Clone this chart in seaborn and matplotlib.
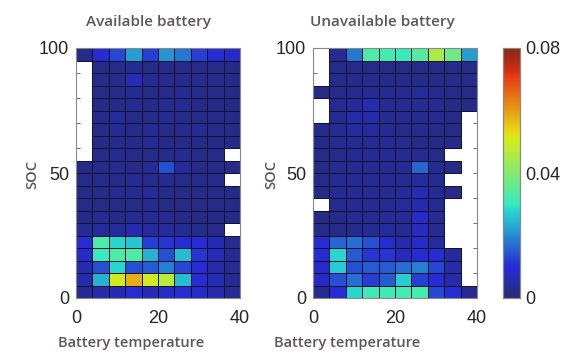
import numpy as np
import pandas as pd
import matplotlib
matplotlib.use("Agg")
import matplotlib.pyplot as plt
import seaborn as sns
from matplotlib.colors import ListedColormap

nan = np.nan
temps = [0, 4, 8, 12, 16, 20, 24, 28, 32, 36]          # left edge of each temperature bin
soc = [95, 90, 85, 80, 75, 70, 65, 60, 55, 50,
       45, 40, 35, 30, 25, 20, 15, 10, 5, 0]             # lower edge of each SOC bin (top to bottom)

available = [
    [0.002, 0.009, 0.013, 0.022, 0.012, 0.021, 0.018, 0.012, 0.010, 0.008],
    [nan, 0.002, 0.002, 0.003, 0.002, 0.002, 0.002, 0.002, 0.002, 0.002],
    [nan, 0.002, 0.002, 0.006, 0.003, 0.002, 0.002, 0.002, 0.002, 0.002],
    [nan, 0.002, 0.002, 0.003, 0.002, 0.002, 0.003, 0.002, 0.002, 0.002],
    [nan, 0.002, 0.002, 0.003, 0.002, 0.003, 0.003, 0.002, 0.002, 0.002],
    [nan, 0.002, 0.004, 0.002, 0.002, 0.003, 0.002, 0.002, 0.002, 0.002],
    [nan, 0.002, 0.003, 0.002, 0.003, 0.002, 0.002, 0.003, 0.002, 0.002],
    [nan, 0.002, 0.002, 0.002, 0.003, 0.002, 0.002, 0.002, 0.002, 0.002],
    [nan, 0.002, 0.003, 0.002, 0.002, 0.002, 0.003, 0.002, 0.002, nan],
    [0.002, 0.002, 0.003, 0.002, 0.003, 0.014, 0.004, 0.002, 0.002, 0.002],
    [0.002, 0.002, 0.002, 0.003, 0.002, 0.003, 0.002, 0.002, 0.002, nan],
    [0.002, 0.002, 0.003, 0.003, 0.004, 0.002, 0.002, 0.002, 0.002, 0.002],
    [0.002, 0.002, 0.002, 0.002, 0.003, 0.002, 0.002, 0.002, 0.002, 0.002],
    [0.002, 0.003, 0.002, 0.003, 0.003, 0.003, 0.002, 0.002, 0.002, 0.002],
    [0.003, 0.004, 0.004, 0.005, 0.004, 0.004, 0.003, 0.002, 0.002, nan],
    [0.010, 0.033, 0.028, 0.026, 0.012, 0.011, 0.010, 0.010, 0.006, 0.003],
    [0.008, 0.030, 0.033, 0.033, 0.024, 0.014, 0.025, 0.011, 0.006, 0.003],
    [0.005, 0.014, 0.028, 0.014, 0.015, 0.019, 0.013, 0.010, 0.005, 0.003],
    [0.005, 0.024, 0.050, 0.058, 0.050, 0.047, 0.025, 0.010, 0.006, 0.003],
    [0.003, 0.005, 0.006, 0.009, 0.006, 0.008, 0.010, 0.008, 0.005, 0.003],
]

unavailable = [
    [nan, 0.003, 0.018, 0.033, 0.032, 0.030, 0.034, 0.045, 0.037, 0.022],
    [nan, 0.002, 0.002, 0.002, 0.002, 0.002, 0.002, 0.002, 0.002, 0.002],
    [nan, 0.002, 0.002, 0.003, 0.002, 0.002, 0.002, 0.002, 0.002, 0.002],
    [0.002, 0.002, 0.003, 0.003, 0.003, 0.003, 0.004, 0.003, 0.002, 0.002],
    [nan, 0.003, 0.004, 0.006, 0.003, 0.003, 0.003, 0.003, 0.002, 0.002],
    [nan, 0.003, 0.005, 0.005, 0.003, 0.003, 0.003, 0.003, 0.002, nan],
    [0.002, 0.003, 0.004, 0.004, 0.003, 0.002, 0.003, 0.002, 0.002, nan],
    [0.002, 0.003, 0.003, 0.003, 0.003, 0.003, 0.002, 0.002, 0.002, nan],
    [0.002, 0.002, 0.003, 0.003, 0.003, 0.003, 0.003, 0.002, nan, nan],
    [0.002, 0.003, 0.003, 0.003, 0.003, 0.003, 0.016, 0.003, 0.002, nan],
    [0.002, 0.003, 0.003, 0.003, 0.003, 0.003, 0.004, 0.003, nan, nan],
    [0.002, 0.003, 0.003, 0.003, 0.003, 0.004, 0.006, 0.003, 0.002, nan],
    [nan, 0.003, 0.003, 0.003, 0.003, 0.004, 0.005, 0.003, nan, nan],
    [0.002, 0.002, 0.003, 0.003, 0.004, 0.003, 0.008, 0.003, nan, nan],
    [0.002, 0.002, 0.003, 0.003, 0.004, 0.003, 0.007, 0.003, nan, nan],
    [0.010, 0.016, 0.017, 0.014, 0.010, 0.005, 0.008, 0.004, nan, nan],
    [0.009, 0.028, 0.015, 0.011, 0.011, 0.007, 0.009, 0.010, 0.004, nan],
    [0.008, 0.027, 0.014, 0.015, 0.015, 0.017, 0.019, 0.013, 0.005, nan],
    [0.008, 0.014, 0.017, 0.012, 0.015, 0.027, 0.012, 0.010, 0.005, nan],
    [0.003, 0.009, 0.028, 0.031, 0.031, 0.032, 0.032, 0.013, 0.010, 0.003],
]

titles = ["Available battery", "Unavailable battery"]
xlabel = "Battery temperature"
ylabel = "SOC"
x_ticks = [0, 20, 40]
y_ticks = [0, 50, 100]
cbar_ticks = [0, 0.04, 0.08]
vmin, vmax = 0.0, 0.08

# faded jet, like the printed original
jet = plt.get_cmap("jet")(np.linspace(0, 1, 256))[:, :3]
fade = np.array([0.60, 0.68, 0.30])
cols = np.clip(jet * 0.75 + fade * 0.25, 0, 1)
cmap = ListedColormap(cols)

sns.set_style("white")
plt.rcParams["font.family"] = ["Liberation Sans", "DejaVu Sans"]

fig = plt.figure(figsize=(5.79, 3.54), dpi=100)
W, H = 579, 354
def fbox(x0, y0, x1, y1):
    return [x0 / W, 1 - y1 / H, (x1 - x0) / W, (y1 - y0) / H]

ax_l = fig.add_axes(fbox(76, 48, 240, 298))
ax_r = fig.add_axes(fbox(313, 48, 477, 298))
cax = fig.add_axes(fbox(503, 48, 520, 298))

dx = temps[1] - temps[0]
dy = soc[0] - soc[1]
ymax = soc[0] + dy
edge_rgba = np.array([0.07, 0.07, 0.2, 1.0])

for i, (ax, data) in enumerate(zip([ax_l, ax_r], [available, unavailable])):
    df = pd.DataFrame(data, index=soc, columns=temps)
    sns.heatmap(df, ax=ax, cmap=cmap, vmin=vmin, vmax=vmax,
                linewidths=0.6, linecolor="#121233",
                cbar=(i == 0), cbar_ax=cax if i == 0 else None,
                xticklabels=False, yticklabels=False)
    # hide the grid lines of empty (white) cells
    mesh = ax.collections[0]
    empty = df.isna().to_numpy().ravel()
    ec = np.tile(edge_rgba, (empty.size, 1))
    ec[empty, 3] = 0.0
    mesh.set_edgecolor(ec)
    ax.set_facecolor("white")
    # map data values to heatmap cell coordinates
    ax.set_xticks([t / dx for t in x_ticks])
    ax.set_xticklabels([str(t) for t in x_ticks], fontsize=13)
    ax.set_yticks([(ymax - v) / dy for v in y_ticks])
    ax.set_yticklabels([str(v) for v in y_ticks], fontsize=13, rotation=0)
    ax.set_yticks([(ymax - v) / dy for v in range(0, 101, 10)], minor=True)
    ax.tick_params(axis="y", which="both", direction="in", length=3,
                   width=0.6, color="#555555", pad=5, left=True, right=True)
    ax.tick_params(axis="x", which="both", bottom=False, top=False, pad=5)
    for s in ax.spines.values():
        s.set_visible(True)
        s.set_color("#888888")
        s.set_linewidth(0.8)
    ax.set_xlabel("")
    ax.set_ylabel("")

ttl_font = dict(family=["Open Sans", "DejaVu Sans"], color="#5e5656", weight="semibold")
fig.text(148 / W, 1 - 22 / H, titles[0], ha="center", va="center", fontsize=11, **ttl_font)
fig.text(382 / W, 1 - 22 / H, titles[1], ha="center", va="center", fontsize=11, **ttl_font)
fig.text(131 / W, 1 - 343 / H, xlabel, ha="center", va="center", fontsize=10.5, **ttl_font)
fig.text(347 / W, 1 - 343 / H, xlabel, ha="center", va="center", fontsize=10.5, **ttl_font)
fig.text(32 / W, 1 - 175 / H, ylabel, ha="center", va="center", rotation=90, fontsize=10.5, **ttl_font)
fig.text(271 / W, 1 - 175 / H, ylabel, ha="center", va="center", rotation=90, fontsize=10.5, **ttl_font)

cax.set_yticks(cbar_ticks)
cax.set_yticklabels(["0", "0.04", "0.08"], fontsize=13)
cax.set_yticks(np.arange(0, 0.081, 0.01), minor=True)
cax.tick_params(axis="y", which="both", direction="in", length=3, width=0.6,
                color="#555555", left=True, right=False, pad=4)
for s in cax.spines.values():
    s.set_visible(True)
    s.set_color("#888888")
    s.set_linewidth(0.8)

fig.savefig("out.png", dpi=100, facecolor="white")
